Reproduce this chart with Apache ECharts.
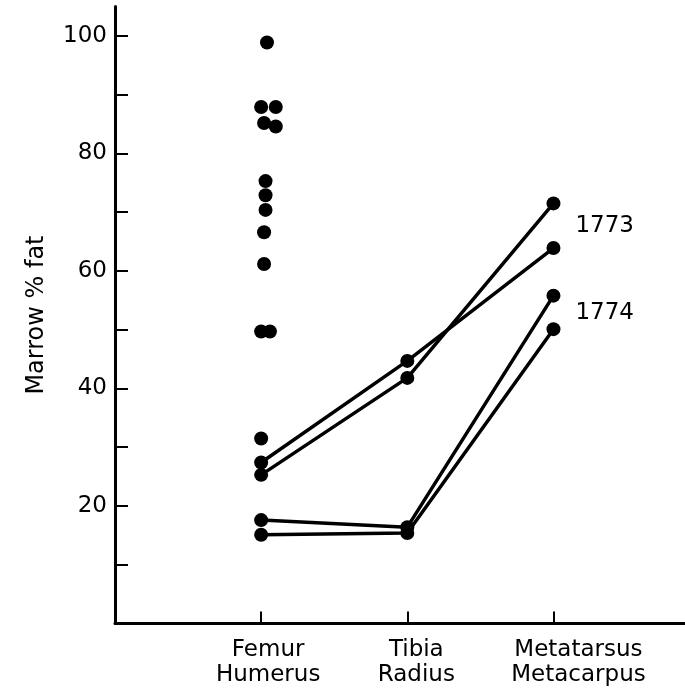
<!DOCTYPE html>
<html>
<head>
<meta charset="utf-8">
<script src="https://cdn.jsdelivr.net/npm/echarts@6/dist/echarts.min.js"></script>
<style>
html, body { margin: 0; padding: 0; background: #fff; }
#chart { width: 685px; height: 697px; }
</style>
</head>
<body>
<div id="chart"></div>
<script>
// bones on the x axis (positions 1, 2, 3)
var bonePos = [1, 2, 3];
var boneTop = ['Femur', 'Tibia', 'Metatarsus'];
var boneBottom = ['Humerus', 'Radius', 'Metacarpus'];

// femur/humerus samples without paired bones: [x jitter, % fat]
var femurOnly = [
    [1.04, 98.9], [1.00, 87.9], [1.10, 87.9], [1.02, 85.2], [1.10, 84.6],
    [1.03, 75.3], [1.03, 72.9], [1.03, 70.4], [1.02, 66.6], [1.02, 61.2],
    [1.00, 49.7], [1.06, 49.7], [1.00, 31.5]
];

// paired animals: femur, tibia, metatarsus
var animalA = [27.4, 44.7, 63.9];
var animalB = [25.3, 41.8, 71.5];
var animalC = [17.6, 16.4, 55.8];
var animalD = [15.1, 15.4, 50.1];

var yTicks = [10, 20, 30, 40, 50, 60, 70, 80, 90, 100];
var yLabels = [20, 40, 60, 80, 100];

var chart = echarts.init(document.getElementById('chart'));
var font = 'DejaVu Sans';

function pairs(vals) {
    return vals.map(function (v, i) { return [bonePos[i], v]; });
}

function lineSeries(vals, tag, off) {
    var d = pairs(vals);
    if (tag) {
        d[2] = {
            value: d[2],
            label: {
                show: true, formatter: tag, position: 'right',
                offset: off, color: '#000', fontSize: 23, fontFamily: font
            }
        };
    }
    return {
        type: 'line',
        data: d,
        symbol: 'circle',
        symbolSize: 14,
        itemStyle: { color: '#000', opacity: 1 },
        lineStyle: { color: '#000', width: 3.5 },
        animation: false,
        z: 3
    };
}

var option = {
    backgroundColor: '#fff',
    grid: { left: 115, right: 0, top: 6.6, bottom: 73.5 },
    xAxis: {
        type: 'value',
        min: 0,
        max: 3.9,
        splitLine: { show: false },
        axisLine: { lineStyle: { color: '#000', width: 3 } },
        axisTick: {
            customValues: bonePos,
            inside: true, length: 12,
            lineStyle: { color: '#000', width: 2 }
        },
        axisLabel: {
            customValues: bonePos,
            hideOverlap: false,
            margin: 14,
            lineHeight: 25,
            formatter: function (v) {
                var i = bonePos.indexOf(v);
                if (i < 0) return '';
                var s = ['a', 'b', 'c'][i];
                return '{' + s + '|' + boneTop[i] + '}\n{' + s + '|' + boneBottom[i] + '}';
            },
            rich: {
                a: { fontSize: 23, fontFamily: font, color: '#000', padding: [0, 0, 0, 14], lineHeight: 25 },
                b: { fontSize: 23, fontFamily: font, color: '#000', padding: [0, 0, 0, 18], lineHeight: 25 },
                c: { fontSize: 23, fontFamily: font, color: '#000', padding: [0, 0, 0, 50], lineHeight: 25 }
            }
        }
    },
    yAxis: {
        type: 'value',
        min: 0,
        max: 105,
        name: 'Marrow % fat',
        nameLocation: 'middle',
        nameGap: 66,
        nameTextStyle: { fontSize: 24, fontFamily: font, color: '#000' },
        splitLine: { show: false },
        axisLine: { lineStyle: { color: '#000', width: 3 } },
        axisTick: {
            customValues: yTicks,
            inside: true, length: 13,
            lineStyle: { color: '#000', width: 2 }
        },
        axisLabel: {
            customValues: yLabels,
            margin: 8,
            fontSize: 23,
            fontFamily: font,
            color: '#000'
        }
    },
    series: [
        {
            type: 'scatter',
            data: femurOnly,
            symbol: 'circle',
            symbolSize: 14,
            itemStyle: { color: '#000', opacity: 1 },
            animation: false
        },
        lineSeries(animalA, '1773', [10, -22]),
        lineSeries(animalB),
        lineSeries(animalC, '1774', [10, 17]),
        lineSeries(animalD)
    ]
};
chart.setOption(option);
</script>
</body>
</html>
